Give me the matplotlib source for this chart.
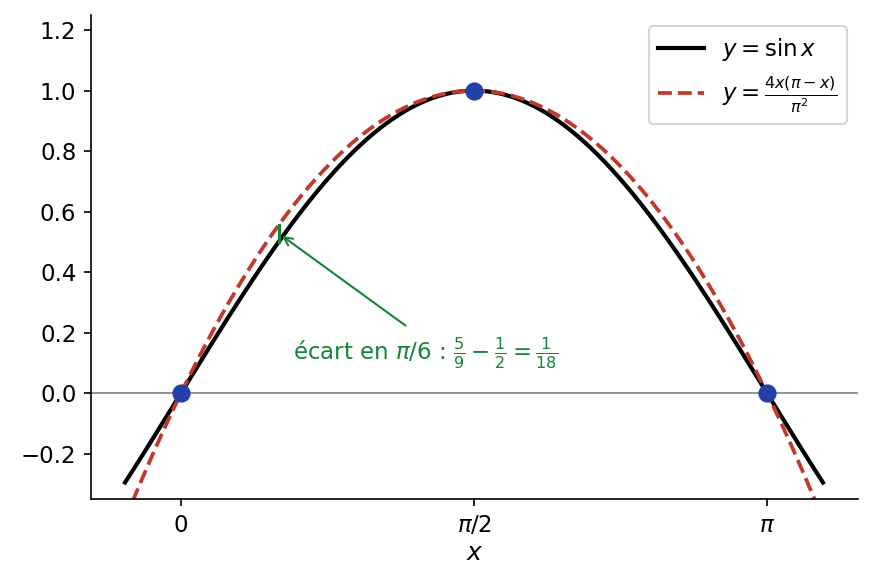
import numpy as np
import matplotlib
matplotlib.use("Agg")
import matplotlib.pyplot as plt

x_range = (-0.3, np.pi + 0.3)
pts_x = [0, np.pi/2, np.pi]
pts_y = [0, 1, 0]
xticks = [0, np.pi/2, np.pi]
xticklabels = ["0", r"$\pi/2$", r"$\pi$"]

x = np.linspace(x_range[0], x_range[1], 400)
fig = plt.figure(figsize=(872/150, 588/150), dpi=150)
ax = fig.add_axes([91/872, 1-499/588, (858-91)/872, (499-15)/588])
ax.axhline(0, color="gray", lw=0.8)
ax.plot(x, np.sin(x), color="black", lw=2, label=r"$y = \sin x$")
ax.plot(x, 4*x*(np.pi-x)/np.pi**2, color="#c0392b", lw=1.8, ls="--",
        label=r"$y = \frac{4x(\pi - x)}{\pi^2}$")
ax.scatter(pts_x, pts_y, color="#2340a8", s=60, zorder=5)
g = "#138535"
ax.plot([np.pi/6, np.pi/6], [0.5, 5/9], color=g, lw=1.5)
ax.annotate("", xy=(np.pi/6, 0.528), xytext=(1.222, 0.215),
            arrowprops=dict(arrowstyle="->", color=g, lw=1))
ax.text(0.6, 0.11, r"écart en $\pi/6$ : $\frac{5}{9} - \frac{1}{2} = \frac{1}{18}$",
        color=g, fontsize=11)
ax.set_xlim(-0.4825, 3.6295)
ax.set_ylim(-0.35, 1.25)
ax.set_xticks(xticks)
ax.set_xticklabels(xticklabels, fontsize=11)
ax.tick_params(labelsize=11)
ax.set_xlabel(r"$x$", fontsize=12, labelpad=2)
ax.spines["top"].set_visible(False)
ax.spines["right"].set_visible(False)
ax.legend(loc="upper right", fontsize=11)
fig.savefig("out.png", dpi=150)
